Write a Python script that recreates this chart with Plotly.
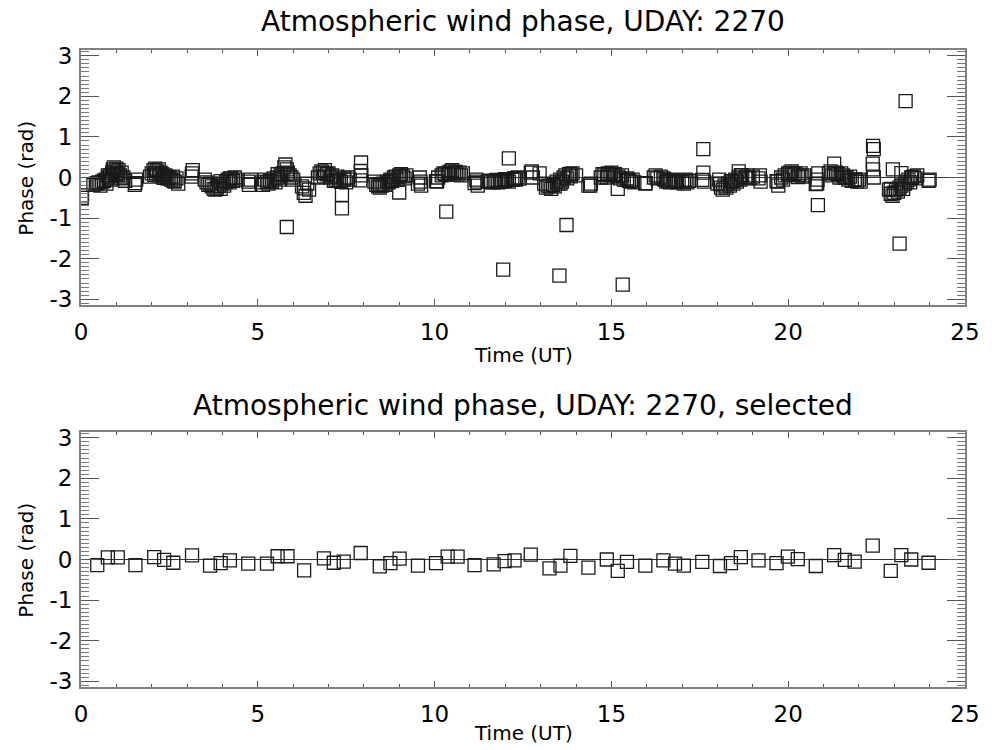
import plotly.graph_objects as go
import math

# ---------------- data ----------------
# Selected points (shown in both panels)
sel_time = [0.46, 0.76, 1.04, 1.54, 2.07, 2.35, 2.61, 3.14, 3.65, 3.95,
            4.21, 4.73, 5.26, 5.56, 5.84, 6.31, 6.87, 7.15, 7.43, 7.91,
            8.45, 8.75, 9.01, 9.53, 10.04, 10.37, 10.65, 11.13, 11.67, 11.98,
            12.26, 12.72, 13.25, 13.56, 13.84, 14.35, 14.87, 15.18, 15.44, 15.96,
            16.47, 16.80, 17.05, 17.57, 18.07, 18.38, 18.66, 19.16, 19.67, 19.99,
            20.27, 20.78, 21.30, 21.60, 21.88, 22.39, 22.90, 23.20, 23.48, 23.97]
sel_phase = [-0.14, 0.05, 0.05, -0.14, 0.06, -0.01, -0.08, 0.10, -0.15, -0.09,
             -0.02, -0.10, -0.10, 0.08, 0.08, -0.27, 0.03, -0.08, -0.05, 0.16,
             -0.17, -0.09, 0.02, -0.15, -0.09, 0.07, 0.07, -0.14, -0.12, -0.04,
             -0.02, 0.12, -0.22, -0.15, 0.09, -0.20, 0.00, -0.28, -0.06, -0.15,
             -0.02, -0.10, -0.15, -0.06, -0.16, -0.09, 0.06, -0.02, -0.09, 0.07,
             0.01, -0.16, 0.11, -0.01, -0.05, 0.34, -0.28, 0.11, 0.00, -0.08]

# Remaining (non-selected) points, shown only in the upper panel
other_time = [
    0.02, 0.03,
    0.35, 0.42, 0.50, 0.55, 0.60, 0.65, 0.70, 0.72, 0.78, 0.82, 0.85, 0.88, 0.90, 0.93,
    0.95, 0.98, 1.00, 1.03, 1.06, 1.10, 1.12, 1.15, 1.20, 1.25,
    1.52, 1.56,
    1.95, 2.00, 2.05, 2.10, 2.12, 2.15, 2.20, 2.22, 2.25, 2.30, 2.33, 2.38, 2.42, 2.45,
    2.50, 2.55, 2.60, 2.65, 2.70, 2.75,
    3.13, 3.16,
    3.50, 3.55, 3.60, 3.70, 3.75, 3.80, 3.85, 3.90, 3.95, 4.00, 4.05, 4.10, 4.15, 4.20,
    4.25, 4.30, 4.35, 4.40,
    4.75, 4.80,
    5.10, 5.15, 5.20, 5.30, 5.35, 5.40, 5.45, 5.50, 5.55, 5.60, 5.65, 5.70, 5.75, 5.78,
    5.82, 5.85, 5.90, 5.95, 6.00,
    5.82,
    6.25, 6.30, 6.35, 6.40, 6.45,
    6.70, 6.75, 6.80, 6.85, 6.90, 6.95, 7.00, 7.05, 7.10, 7.20, 7.25, 7.30, 7.35, 7.45,
    7.50, 7.55, 7.60,
    7.38, 7.38,
    7.92, 7.93, 7.90,
    8.30, 8.35, 8.40, 8.45, 8.50, 8.55, 8.60, 8.65, 8.70, 8.75, 8.80, 8.85, 8.90, 8.95,
    9.00, 9.05, 9.10, 9.15, 9.20,
    9.00,
    9.60, 9.62, 9.58,
    10.07, 10.33,
    10.10, 10.20, 10.25, 10.30, 10.40, 10.45, 10.50, 10.55, 10.60, 10.70, 10.75, 10.80,
    11.20, 11.22, 11.18,
    11.50, 11.55, 11.60, 11.70, 11.75, 11.80, 11.85, 11.90, 12.00, 12.05, 12.10, 12.20,
    12.25, 12.30, 12.35, 12.40,
    12.10, 11.94,
    12.75, 12.78, 12.97,
    13.10, 13.15, 13.20, 13.30, 13.35, 13.40, 13.45, 13.50, 13.55, 13.60, 13.65, 13.70,
    13.75, 13.80, 13.85, 13.90, 14.00,
    13.73, 13.53,
    14.40, 14.42,
    14.70, 14.75, 14.80, 14.90, 14.95, 15.00, 15.05, 15.10, 15.20, 15.25, 15.30, 15.35,
    15.45, 15.50, 15.55, 15.60, 15.65,
    15.32, 15.97,
    16.20, 16.25, 16.30, 16.40, 16.50, 16.55, 16.60, 16.65, 16.70, 16.75, 16.85, 16.90,
    17.00, 17.10, 17.15, 17.20,
    17.60, 17.60, 17.62,
    18.05,
    18.00, 18.10, 18.15, 18.20, 18.25, 18.30, 18.35, 18.40, 18.45, 18.50, 18.55, 18.60,
    18.65, 18.70, 18.80, 18.85, 18.90, 19.00,
    18.60,
    19.20, 19.22, 19.70, 19.72,
    19.80, 19.85, 19.90, 20.00, 20.05, 20.10, 20.15, 20.20, 20.30, 20.35, 20.40, 20.45,
    20.83, 20.85, 20.82, 20.84,
    21.30,
    21.15, 21.20, 21.25, 21.35, 21.40, 21.45, 21.50, 21.55, 21.65, 21.70, 21.75, 21.80,
    21.90, 21.95, 22.00, 22.05,
    22.40, 22.42, 22.40, 22.42,
    22.96,
    23.32, 23.15,
    22.85, 22.90, 22.95, 23.00, 23.05, 23.10, 23.15, 23.20, 23.25, 23.30, 23.35, 23.40,
    23.45, 23.50, 23.55, 23.60, 23.65,
    24.00,
]
other_phase = [
    -0.50, -0.44,
    -0.18, -0.15, -0.12, -0.20, -0.10, -0.08, -0.05, -0.15, 0.00, 0.05, -0.05, 0.12, 0.20, 0.25,
    0.15, 0.08, 0.22, 0.10, 0.18, 0.05, -0.02, 0.12, 0.00, -0.08,
    -0.18, -0.05,
    0.02, 0.10, 0.18, 0.22, 0.10, 0.15, 0.20, 0.05, 0.12, 0.08, 0.00, 0.05, 0.02, -0.03,
    0.00, -0.05, 0.02, -0.10, -0.02, -0.15,
    0.02, 0.18,
    -0.05, -0.12, -0.18, -0.22, -0.28, -0.30, -0.25, -0.20, -0.28, -0.15, -0.20, -0.10, -0.05, -0.12,
    -0.02, -0.08, 0.00, -0.05,
    -0.18, -0.05,
    -0.12, -0.18, -0.05, -0.15, -0.08, -0.10, -0.02, -0.12, 0.00, -0.05, 0.05, 0.10, 0.25, 0.32,
    0.20, 0.12, 0.05, 0.00, -0.05,
    -1.22,
    -0.22, -0.38, -0.45, -0.15, -0.30,
    0.00, 0.10, 0.15, 0.12, 0.18, 0.08, 0.10, 0.00, 0.05, -0.05, 0.02, -0.08, -0.10, -0.02,
    -0.12, 0.00, -0.05,
    -0.43, -0.76,
    0.37, 0.05, -0.07,
    -0.10, -0.18, -0.22, -0.25, -0.20, -0.15, -0.18, -0.10, -0.12, -0.05, -0.08, 0.00, 0.02, -0.05,
    0.05, 0.08, 0.03, -0.02, 0.05,
    -0.37,
    -0.10, -0.20, 0.00,
    -0.10, -0.84,
    0.00, 0.05, 0.10, 0.08, 0.12, 0.15, 0.18, 0.10, 0.14, 0.12, 0.05, 0.10,
    -0.10, -0.20, -0.05,
    -0.10, -0.08, -0.12, -0.10, -0.06, -0.12, -0.08, -0.10, -0.08, -0.05, -0.10, -0.06,
    -0.02, -0.05, 0.00, -0.03,
    0.47, -2.27,
    0.15, 0.00, 0.10,
    -0.15, -0.25, -0.20, -0.28, -0.18, -0.22, -0.10, -0.15, -0.05, -0.10, 0.00, 0.05,
    -0.02, 0.08, 0.03, 0.10, 0.05,
    -1.17, -2.42,
    -0.20, -0.15,
    0.00, 0.08, 0.05, 0.10, 0.06, 0.12, 0.05, 0.08, 0.02, -0.02, 0.05, -0.05,
    -0.02, -0.08, -0.10, -0.05, -0.12,
    -2.64, -0.14,
    0.00, 0.05, -0.02, 0.02, -0.05, -0.10, -0.08, -0.12, -0.05, -0.10, -0.12, -0.08,
    -0.10, -0.05, -0.12, -0.08,
    0.70, 0.12, -0.10,
    -0.05,
    -0.15, -0.25, -0.30, -0.20, -0.25, -0.15, -0.20, -0.10, -0.15, -0.05, -0.10, 0.00,
    -0.05, 0.05, 0.00, 0.05, -0.02, 0.02,
    0.15,
    0.05, -0.10, -0.10, -0.20,
    0.00, -0.05, 0.05, 0.10, 0.12, 0.15, 0.08, 0.10, 0.05, 0.10, 0.02, 0.05,
    -0.05, 0.10, -0.15, -0.68,
    0.34,
    0.10, 0.15, 0.05, 0.12, 0.08, 0.00, 0.10, 0.05, 0.00, -0.05, 0.02, -0.08,
    -0.05, -0.10, -0.05, -0.10,
    0.78, 0.70, 0.20, 0.00,
    0.20,
    1.88, -1.63,
    -0.30, -0.40, -0.45, -0.38, -0.30, -0.35, -0.25, -0.20, -0.28, -0.15, -0.10, -0.05,
    -0.12, 0.00, 0.03, -0.02, 0.05,
    -0.05,
]

all_time = other_time + sel_time
all_phase = other_phase + sel_phase

title_top = "Atmospheric wind phase, UDAY: 2270"
title_bottom = "Atmospheric wind phase, UDAY: 2270, selected"
x_title = "Time (UT)"
y_title = "Phase (rad)"
x_tickvals = [0, 5, 10, 15, 20, 25]
x_ticktext = ["0", "5", "10", "15", "20", "25"]
y_tickvals = [-3, -2, -1, 0, 1, 2, 3]
y_ticktext = ["-3", "-2", "-1", "0", "1", "2", "3"]

# ---------------- styling ----------------
FONT = "DejaVu Sans"
W, H = 992, 750
ML, MR, MT, MB = 81, 17, 50, 63
PH = H - MT - MB


def py2paper(py):
    return (H - MB - py) / PH


def px2paper(px):
    return (px - ML) / (W - ML - MR)


marker = dict(symbol="square-open", size=13, color="#1a1a1a",
              line=dict(width=1.3, color="#1a1a1a"))

fig = go.Figure()
fig.add_trace(go.Scatter(x=all_time, y=all_phase, mode="markers", marker=marker,
                         xaxis="x", yaxis="y", showlegend=False))
fig.add_trace(go.Scatter(x=sel_time, y=sel_phase, mode="markers", marker=marker,
                         xaxis="x2", yaxis="y2", showlegend=False))

axis_common = dict(showgrid=False, showline=True, linecolor="#808080", linewidth=2,
                   mirror="allticks", ticks="inside", tickcolor="#555555",
                   tickfont=dict(family=FONT, size=23, color="black"))

xaxis = dict(axis_common, range=[0, 25], tickmode="array", tickvals=x_tickvals,
             ticktext=x_ticktext, ticklen=6, tickwidth=1, zeroline=False,
             ticklabelstandoff=5,
             minor=dict(dtick=1, tick0=0, ticks="inside", ticklen=3,
                        tickcolor="#555555", showgrid=False))
yaxis = dict(axis_common, range=[-math.pi, math.pi], tickmode="array",
             tickvals=y_tickvals, ticktext=y_ticktext, ticklen=18, tickwidth=1,
             zeroline=True, zerolinecolor="#333333", zerolinewidth=1,
             ticklabelstandoff=2,
             minor=dict(dtick=0.1, tick0=0, ticks="inside", ticklen=8,
                        tickcolor="#777777", showgrid=False))

top_dom = [py2paper(305), 1.0]
bot_dom = [0.0, py2paper(432)]

fig.update_layout(
    width=W, height=H,
    margin=dict(l=ML, r=MR, t=MT, b=MB, pad=0),
    paper_bgcolor="white", plot_bgcolor="white",
    xaxis=dict(xaxis, domain=[0, 1], anchor="y"),
    yaxis=dict(yaxis, domain=top_dom, anchor="x"),
    xaxis2=dict(xaxis, domain=[0, 1], anchor="y2"),
    yaxis2=dict(yaxis, domain=bot_dom, anchor="x2"),
    showlegend=False,
)

ann_font_title = dict(family=FONT, size=28, color="black")
ann_font_axis = dict(family=FONT, size=20, color="black")
annotations = [
    dict(text=title_top, x=0.5, y=py2paper(22), xref="paper", yref="paper",
         xanchor="center", yanchor="middle", showarrow=False, font=ann_font_title),
    dict(text=title_bottom, x=0.5, y=py2paper(405), xref="paper", yref="paper",
         xanchor="center", yanchor="middle", showarrow=False, font=ann_font_title),
    dict(text=x_title, x=0.5, y=py2paper(355), xref="paper", yref="paper",
         xanchor="center", yanchor="middle", showarrow=False, font=ann_font_axis),
    dict(text=x_title, x=0.5, y=py2paper(733), xref="paper", yref="paper",
         xanchor="center", yanchor="middle", showarrow=False, font=ann_font_axis),
    dict(text=y_title, x=px2paper(25), y=py2paper(178), xref="paper", yref="paper",
         xanchor="center", yanchor="middle", showarrow=False, textangle=-90,
         font=ann_font_axis),
    dict(text=y_title, x=px2paper(25), y=py2paper(560), xref="paper", yref="paper",
         xanchor="center", yanchor="middle", showarrow=False, textangle=-90,
         font=ann_font_axis),
]
fig.update_layout(annotations=annotations)

fig.write_html("out.html")
